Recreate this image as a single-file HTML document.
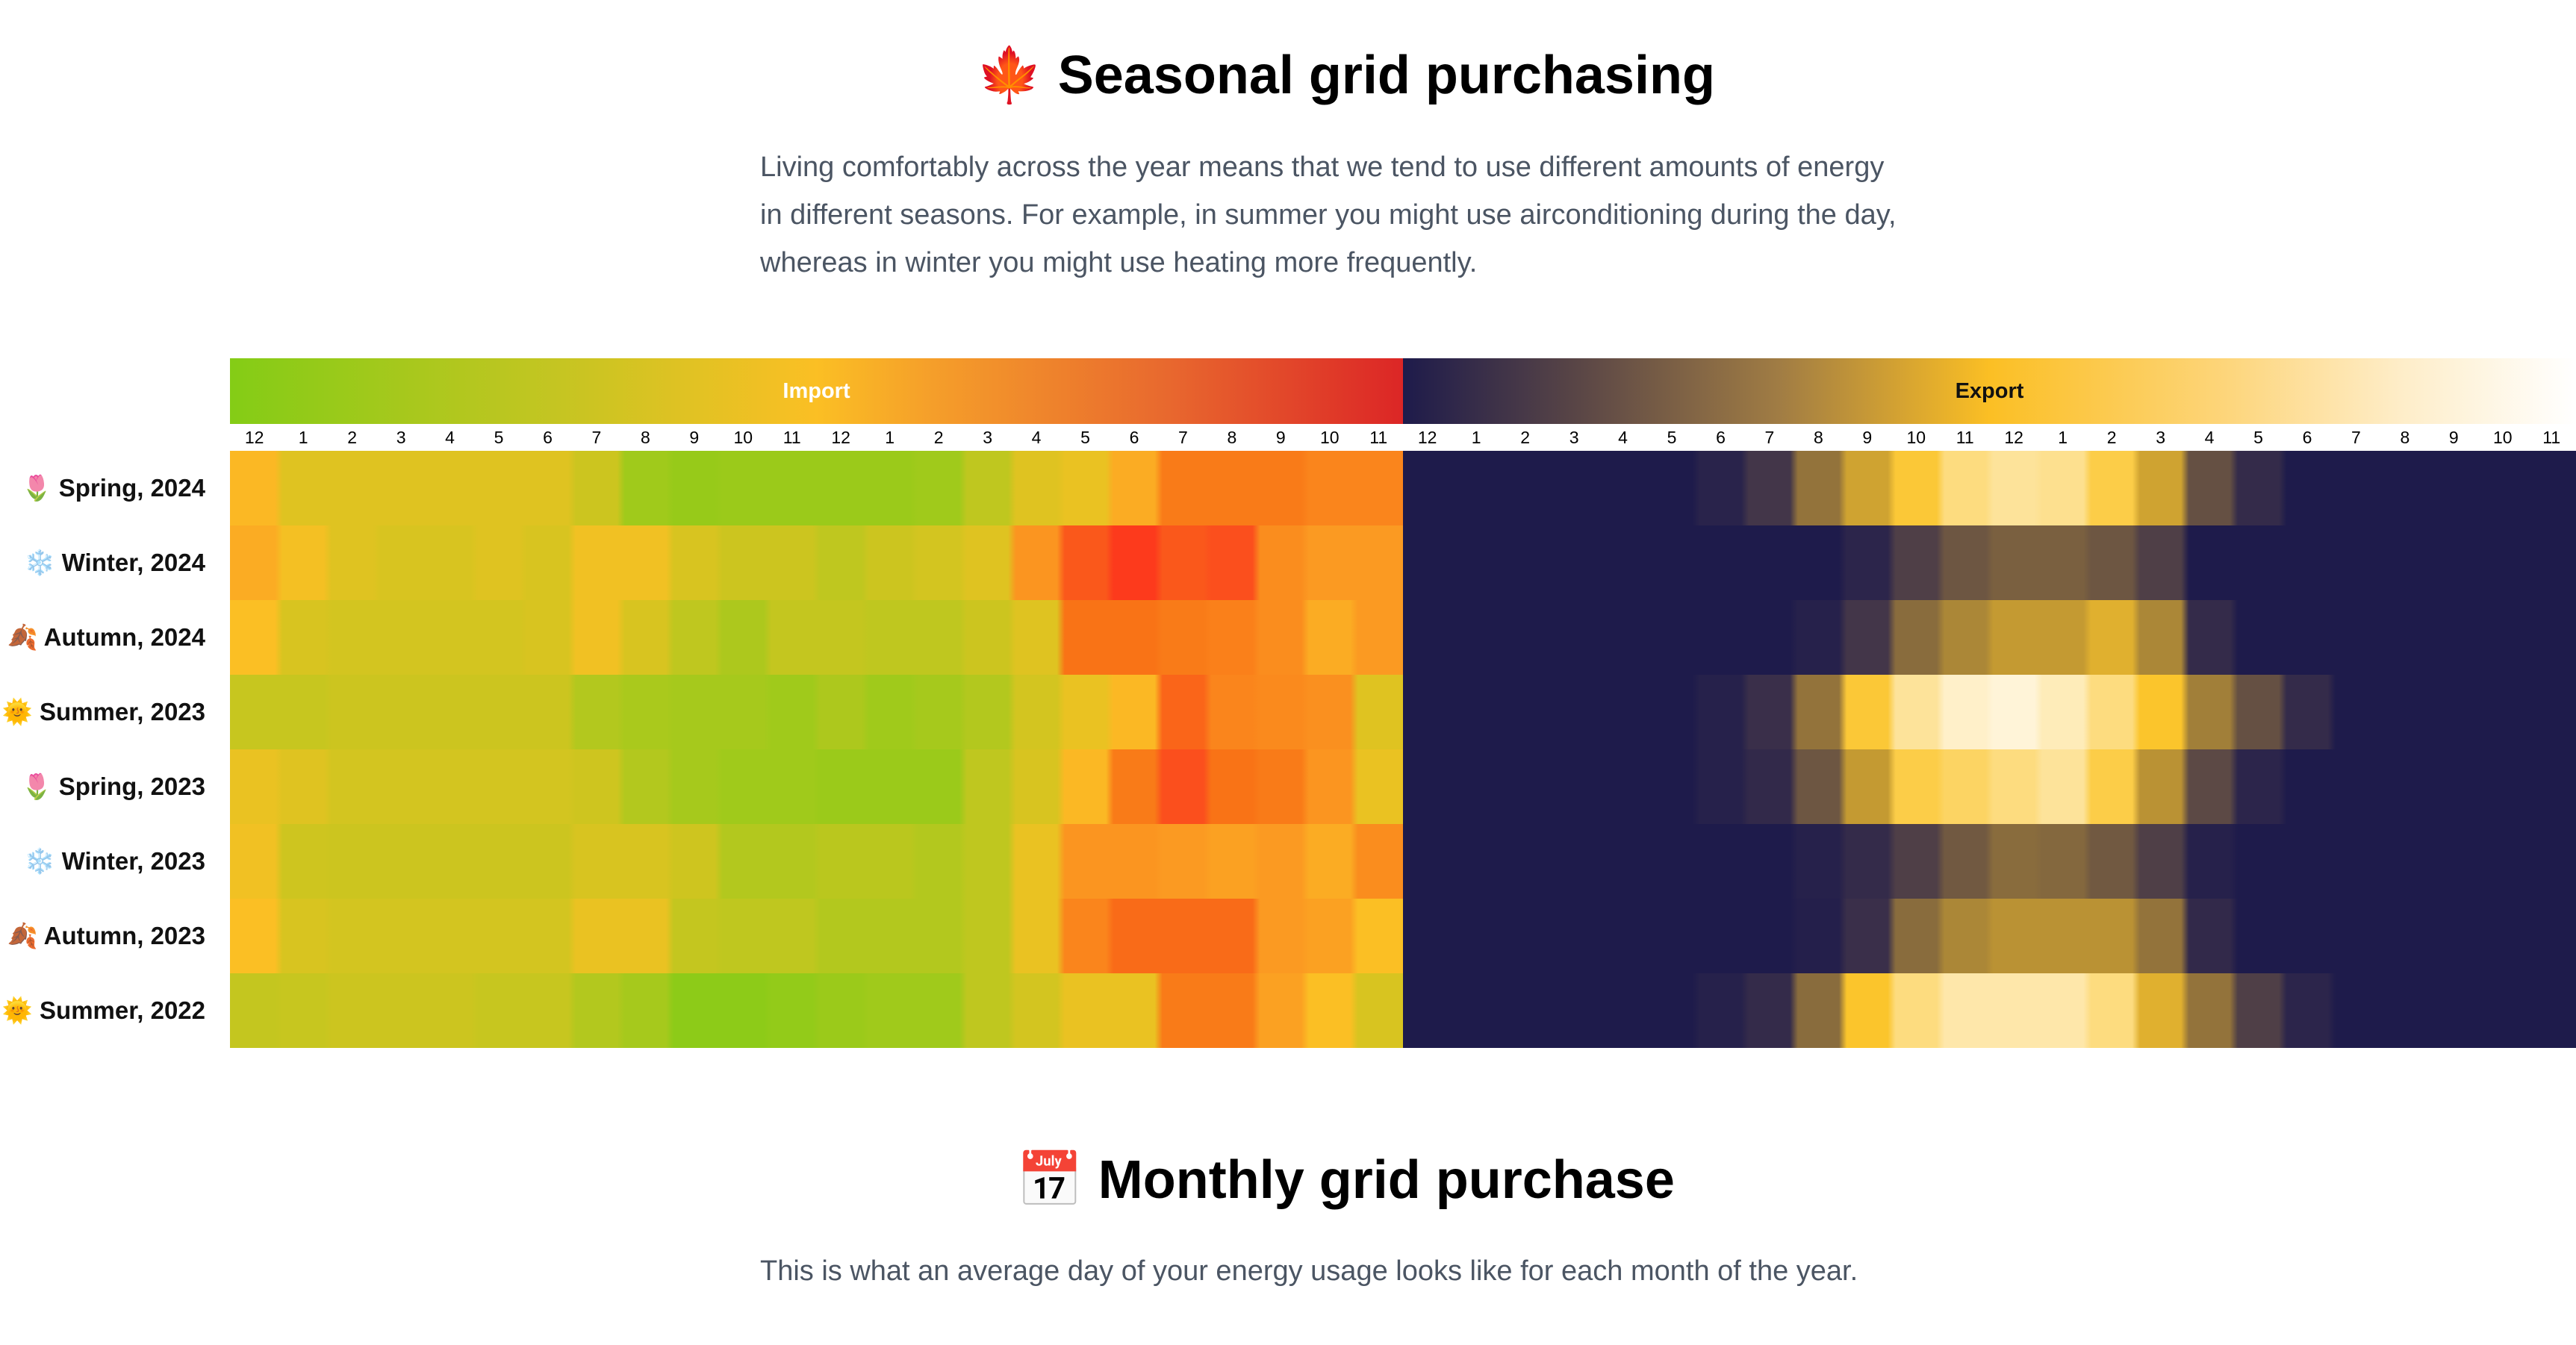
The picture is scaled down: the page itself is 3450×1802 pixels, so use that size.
<!DOCTYPE html>
<html><head><meta charset="utf-8">
<style>
html,body{margin:0;padding:0;background:#fff;}
body{width:3450px;height:1802px;position:relative;overflow:hidden;font-family:"Liberation Sans","DejaVu Sans",sans-serif;}
.t{position:absolute;white-space:nowrap;}
h1{margin:0;font-size:72px;font-weight:bold;color:#000;}
.p{font-size:38px;color:#4b5563;line-height:64px;}
.bar{position:absolute;top:480px;height:88px;}
.tick{position:absolute;top:570px;width:65.4px;text-align:center;font-size:23px;color:#000;line-height:32px;}
.row{position:absolute;height:100px;}
.lab{position:absolute;right:3175px;font-size:33px;font-weight:bold;color:#111;text-align:right;line-height:100px;white-space:nowrap;}
</style></head><body>
<div class="t" style="left:302px;width:3000px;top:58px;text-align:center;"><h1>🍁 Seasonal grid purchasing</h1></div>
<div class="t p" style="left:1018px;top:192px;">Living comfortably across the year means that we tend to use different amounts of energy<br>in different seasons. For example, in summer you might use airconditioning during the day,<br>whereas in winter you might use heating more frequently.</div>

<div class="bar" style="left:308px;width:1571px;background:linear-gradient(90deg,#84cc16 0%,#c5c522 28%,#fbbf24 50%,#f59e2a 60%,#e8682e 80%,#dc2626 100%);"></div>
<div class="t" style="left:308px;width:1571px;top:480px;line-height:88px;text-align:center;color:#fff;font-size:29px;font-weight:bold;">Import</div>
<div class="bar" style="left:1879px;width:1571px;background:linear-gradient(90deg,#1e1b4b 0%,#5a4646 15%,#a07c44 32%,#fbbf24 50%,#fdd57a 70%,#feedc8 85%,#ffffff 100%);"></div>
<div class="t" style="left:1879px;width:1571px;top:480px;line-height:88px;text-align:center;color:#111;font-size:29px;font-weight:bold;">Export</div>

<div id="ticks"></div>
<div id="rows"></div>

<div class="t" style="left:302px;width:3000px;top:1538px;text-align:center;"><h1>📅 Monthly grid purchase</h1></div>
<div class="t p" style="left:1018px;top:1671px;">This is what an average day of your energy usage looks like for each month of the year.</div>

<script>
(function(){
function hex(h){return [parseInt(h.substr(1,2),16),parseInt(h.substr(3,2),16),parseInt(h.substr(5,2),16)];}
function scale(stops){return function(v){v=Math.max(0,Math.min(1,v));for(var i=1;i<stops.length;i++){if(v<=stops[i][0]){var a=stops[i-1],b=stops[i],t=(v-a[0])/(b[0]-a[0]);var ca=hex(a[1]),cb=hex(b[1]);return 'rgb('+ca.map(function(x,k){return Math.round(x+(cb[k]-x)*t)}).join(',')+')';}}return stops[stops.length-1][1];};}
var imp=scale([[0,'#84cc16'],[0.25,'#b3c81e'],[0.4,'#d8c420'],[0.5,'#fbbf24'],[0.6,'#fb9a22'],[0.75,'#f97316'],[0.9,'#fb4a1e'],[1,'#ff2a1a']]);
var exp=scale([[0,'#1e1b4b'],[0.1,'#3a2f4a'],[0.25,'#7a6040'],[0.4,'#c49a32'],[0.5,'#fbc52c'],[0.7,'#fde39a'],[0.9,'#fff4d8'],[1,'#ffffff']]);
var labels=['🌷 Spring, 2024','❄️ Winter, 2024','🍂 Autumn, 2024','🌞 Summer, 2023','🌷 Spring, 2023','❄️ Winter, 2023','🍂 Autumn, 2023','🌞 Summer, 2022'];
var I=[
[.52,.42,.42,.42,.42,.42,.42,.35,.15,.1,.12,.12,.12,.12,.15,.3,.42,.45,.55,.72,.72,.72,.68,.68],
[.55,.48,.42,.4,.4,.42,.4,.47,.47,.4,.35,.35,.3,.35,.38,.42,.62,.85,.95,.85,.88,.65,.6,.6],
[.5,.4,.38,.38,.38,.38,.4,.47,.4,.3,.22,.32,.32,.3,.3,.35,.42,.75,.75,.72,.7,.65,.55,.6],
[.33,.33,.35,.35,.35,.35,.35,.25,.2,.18,.18,.15,.22,.15,.18,.25,.38,.45,.52,.8,.68,.66,.64,.42],
[.45,.42,.38,.38,.38,.38,.38,.36,.25,.18,.15,.15,.12,.12,.12,.3,.4,.52,.72,.88,.75,.72,.62,.45],
[.47,.36,.35,.35,.35,.35,.35,.4,.4,.36,.25,.25,.28,.28,.25,.3,.45,.62,.62,.6,.58,.6,.55,.65],
[.5,.4,.38,.38,.38,.38,.38,.45,.45,.32,.3,.3,.25,.25,.25,.3,.45,.68,.78,.78,.78,.6,.58,.5],
[.32,.33,.35,.35,.35,.33,.33,.25,.18,.05,.05,.08,.12,.15,.15,.3,.38,.45,.45,.72,.72,.58,.5,.4]];
function e(o){var a=[];for(var i=0;i<24;i++)a.push(o[i]||0);return a;}
var E=[
e({6:.04,7:.12,8:.3,9:.42,10:.52,11:.65,12:.7,13:.68,14:.55,15:.42,16:.2,17:.08}),
e({9:.05,10:.15,11:.22,12:.25,13:.25,14:.22,15:.15}),
e({8:.03,9:.12,10:.28,11:.35,12:.4,13:.4,14:.45,15:.35,16:.08}),
e({6:.03,7:.1,8:.3,9:.52,10:.7,11:.85,12:.9,13:.8,14:.65,15:.5,16:.33,17:.2,18:.08}),
e({6:.03,7:.07,8:.22,9:.4,10:.55,11:.6,12:.65,13:.7,14:.55,15:.38,16:.18,17:.05}),
e({8:.03,9:.08,10:.15,11:.23,12:.28,13:.27,14:.23,15:.15,16:.03}),
e({8:.02,9:.1,10:.28,11:.35,12:.38,13:.38,14:.38,15:.3,16:.07}),
e({6:.03,7:.08,8:.28,9:.5,10:.65,11:.75,12:.75,13:.75,14:.65,15:.45,16:.3,17:.15,18:.05})];
var W=1571/24,html='';
var hrs=[12,1,2,3,4,5,6,7,8,9,10,11,12,1,2,3,4,5,6,7,8,9,10,11];
for(var h=0;h<2;h++)for(var i=0;i<24;i++){html+='<div class="tick" style="left:'+(308+h*1571+i*W).toFixed(1)+'px">'+hrs[i]+'</div>';}
document.getElementById('ticks').innerHTML=html;
function grad(vals,f){var s=[],b=0.08;for(var i=0;i<24;i++){var c=f(vals[i]);var a=(i===0?0:(i+b)/24*100),z=(i===23?100:(i+1-b)/24*100);s.push(c+' '+a.toFixed(2)+'%');s.push(c+' '+z.toFixed(2)+'%');}return 'linear-gradient(90deg,'+s.join(',')+')';}
html='';
for(var r=0;r<8;r++){var ty=604+r*100;
html+='<div class="lab" style="top:'+ty+'px">'+labels[r]+'</div>';
html+='<div class="row" style="top:'+ty+'px;left:308px;width:1571px;background:'+grad(I[r],imp)+'"></div>';
html+='<div class="row" style="top:'+ty+'px;left:1879px;width:1571px;background:'+grad(E[r],exp)+'"></div>';}
document.getElementById('rows').innerHTML=html;
})();
</script>
</body></html>
